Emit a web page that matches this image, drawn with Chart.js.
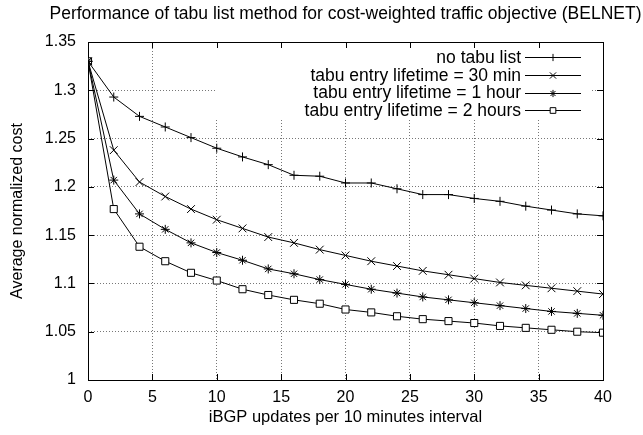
<!DOCTYPE html>
<html>
<head>
<meta charset="utf-8">
<script src="https://cdn.jsdelivr.net/npm/chart.js@4/dist/chart.umd.min.js"></script>
<style>
  html, body { margin:0; padding:0; background:#fff; }
  #wrap { width:643px; height:435px; }
</style>
</head>
<body>
<div id="wrap"><canvas id="chart" width="643" height="435"></canvas></div>
<script>
// x positions (updates per 10 min)
const xValues = [0,2,4,6,8,10,12,14,16,18,20,22,24,26,28,30,32,34,36,38,40];
const xTicks = [0,5,10,15,20,25,30,35,40];
const yTicks = [1,1.05,1.1,1.15,1.2,1.25,1.3,1.35];

const noTabu = [1.33,1.293,1.273,1.262,1.251,1.240,1.231,1.223,1.212,1.211,1.204,1.204,1.198,1.192,1.192,1.188,1.185,1.180,1.176,1.172,1.170];
const tabu30 = [1.33,1.238,1.205,1.190,1.177,1.166,1.157,1.148,1.142,1.135,1.129,1.123,1.118,1.113,1.109,1.105,1.101,1.098,1.095,1.092,1.089];
const tabu1h = [1.33,1.207,1.172,1.156,1.142,1.132,1.124,1.115,1.110,1.104,1.099,1.094,1.090,1.086,1.083,1.080,1.077,1.074,1.071,1.069,1.067];
const tabu2h = [1.33,1.177,1.138,1.123,1.111,1.103,1.094,1.088,1.083,1.079,1.073,1.070,1.066,1.063,1.061,1.059,1.056,1.054,1.052,1.050,1.049];

const labels = ['no tabu list','tabu entry lifetime = 30 min','tabu entry lifetime = 1 hour','tabu entry lifetime = 2 hours'];
const styles = ['cross','crossRot','star','rect'];
const radii  = [4.5,5.5,4.5,5];

const TITLE = 'Performance of tabu list method for cost-weighted traffic objective (BELNET)';
const FONT = "'Liberation Sans', Arial, Helvetica, sans-serif";

function pts(arr){ return arr.map((v,i) => ({x:xValues[i], y:v})); }

const datasets = [noTabu, tabu30, tabu1h, tabu2h].map((arr,i) => ({
  label: labels[i],
  data: pts(arr),
  borderColor:'#000',
  backgroundColor:'#fff',
  borderWidth:1,
  pointStyle: styles[i],
  pointRadius: radii[i],
  pointBorderColor:'#000',
  pointBackgroundColor:'#fff',
  pointBorderWidth:1,
  tension:0
}));

// gnuplot style frame, inward ticks, legend box over the grid, title
const framePlugin = {
  id:'frame',
  beforeDatasetsDraw(chart){
    const ctx = chart.ctx, a = chart.chartArea;
    const xs = chart.scales.x, ys = chart.scales.y;
    ctx.save();
    // legend box hides grid
    ctx.fillStyle = '#fff';
    ctx.fillRect(a.left + 128, a.top + 0.5, a.right - a.left - 141, 76);
    ctx.strokeStyle = '#000';
    ctx.lineWidth = 1;
    ctx.beginPath();
    const tl = 6;
    xTicks.forEach(v => {
      const px = Math.round(xs.getPixelForValue(v)) + 0.5;
      ctx.moveTo(px, a.bottom); ctx.lineTo(px, a.bottom - tl);
      ctx.moveTo(px, a.top); ctx.lineTo(px, a.top + tl);
    });
    yTicks.forEach(v => {
      const py = Math.round(ys.getPixelForValue(v)) + 0.5;
      ctx.moveTo(a.left, py); ctx.lineTo(a.left + tl, py);
      ctx.moveTo(a.right, py); ctx.lineTo(a.right - tl, py);
    });
    ctx.stroke();
    ctx.strokeRect(Math.round(a.left)+0.5, Math.round(a.top)+0.5, Math.round(a.right-a.left), Math.round(a.bottom-a.top));
    ctx.restore();
  },
  afterDraw(chart){
    const ctx = chart.ctx, a = chart.chartArea;
    ctx.save();
    ctx.fillStyle = '#000';
    ctx.textBaseline = 'middle';
    // title, centred over the plot
    ctx.font = '17.5px ' + FONT;
    ctx.textAlign = 'center';
    ctx.fillText(TITLE, (a.left + a.right) / 2, 14);
    // legend
    ctx.textAlign = 'right';
    const textRight = a.right - 82;
    const lineL = a.right - 78, lineR = a.right - 22;
    labels.forEach((t,i) => {
      const y = a.top + 15 + i*17.8;
      ctx.fillText(t, textRight, y + 1);
      ctx.strokeStyle = '#000';
      ctx.lineWidth = 1;
      ctx.beginPath();
      ctx.moveTo(lineL, Math.round(y)+0.5); ctx.lineTo(lineR, Math.round(y)+0.5);
      ctx.stroke();
      ctx.fillStyle = '#fff';
      Chart.helpers.drawPoint(ctx, {pointStyle:styles[i], radius:radii[i]*0.8, borderWidth:1, rotation:0}, (lineL+lineR)/2, Math.round(y)+0.5);
      ctx.fillStyle = '#000';
    });
    ctx.restore();
  }
};

new Chart(document.getElementById('chart').getContext('2d'), {
  type:'line',
  data:{ datasets },
  plugins:[framePlugin],
  options:{
    responsive:false,
    animation:false,
    layout:{ padding:{ top:42, right:40, left:0, bottom:0 } },
    plugins:{
      legend:{ display:false },
      tooltip:{ enabled:false },
      title:{ display:false }
    },
    scales:{
      x:{
        type:'linear', min:0, max:40,
        afterBuildTicks(s){ s.ticks = xTicks.map(v => ({value:v})); },
        afterFit(s){ s.height = 55; },
        grid:{ color:'#777', drawTicks:false, lineWidth:(c) => (c.tick && (c.tick.value === 0 || c.tick.value === 40)) ? 0 : 1 },
        border:{ display:false, dash:[1,2] },
        ticks:{ color:'#000', padding:8, maxRotation:0, font:{ family:FONT, size:16 } },
        title:{ display:true, text:'iBGP updates per 10 minutes interval', color:'#000', font:{ family:FONT, size:16.5 }, padding:{ top:0, bottom:8 } }
      },
      y:{
        type:'linear', min:1, max:1.35,
        afterBuildTicks(s){ s.ticks = yTicks.map(v => ({value:v})); },
        afterFit(s){ s.width = 88; },
        grid:{ color:'#777', drawTicks:false, lineWidth:(c) => (c.tick && (c.tick.value === 1 || c.tick.value === 1.35)) ? 0 : 1 },
        border:{ display:false, dash:[1,2] },
        ticks:{ color:'#000', padding:12, font:{ family:FONT, size:16 }, callback:(v) => String(Math.round(v*100)/100) },
        title:{ display:true, text:'Average normalized cost', color:'#000', font:{ family:FONT, size:16 }, padding:{ top:8, bottom:0 } }
      }
    }
  }
});
</script>
</body>
</html>
